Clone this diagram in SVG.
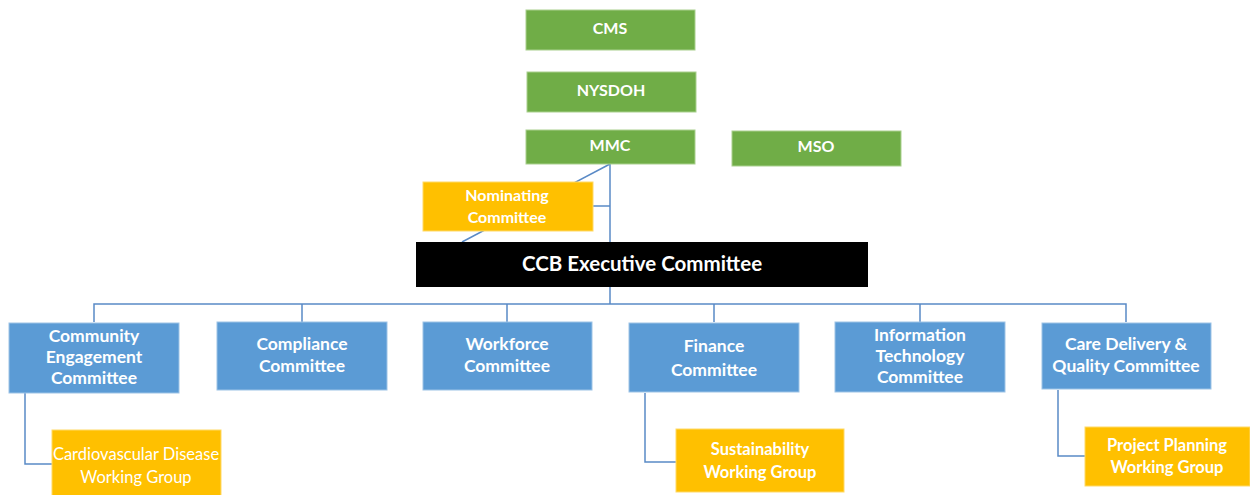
<svg xmlns="http://www.w3.org/2000/svg" width="1250" height="495" viewBox="0 0 1250 495">
<style>
.g{fill:#70AD47;stroke:#A9D08E;stroke-width:1}
.b{fill:#5B9BD5;stroke:#9DC3E6;stroke-width:1}
.o{fill:#FFC000;stroke:#FFD966;stroke-width:1}
.k{fill:#000000}
text{font-family:Lato,"Open Sans",sans-serif;font-weight:700;fill:#FFFFFF;text-anchor:middle;font-size:17.5px}
.s{font-size:16px}
.w{font-size:16.5px}
.big{font-size:20.5px}
.ln{fill:none;stroke:#5A8AC6;stroke-width:1.5}
</style>
<rect width="1250" height="495" fill="#FFFFFF"/>
<g id="connectors">
<line class="ln" x1="610" y1="164" x2="462" y2="242"/>
<path class="ln" d="M610 164V304M593 206H610M94 322V304H1126V322M302 304V322M507 304V322M714 304V322M920 304V322"/>
<path class="ln" d="M25 393V464H52M645 393V462H676M1058 390V456H1085"/>
</g>
<g id="cms"><rect class="g" x="526" y="10" width="169" height="40"/><text class="s" x="610" y="34">CMS</text></g>
<g id="nysdoh"><rect class="g" x="527" y="72" width="169" height="40"/><text class="s" x="611" y="96">NYSDOH</text></g>
<g id="mmc"><rect class="g" x="526" y="130" width="169" height="34"/><text class="s" x="610" y="151">MMC</text></g>
<g id="mso"><rect class="g" x="732" y="131" width="169" height="35"/><text class="s" x="816" y="152">MSO</text></g>
<g id="nominating"><rect class="o" x="423" y="182" width="170" height="49"/><text class="s" x="507" y="201">Nominating</text><text class="s" x="507" y="223">Committee</text></g>
<g id="ccb"><rect class="k" x="416" y="242" width="452" height="45"/><text class="big" x="642" y="271">CCB Executive Committee</text></g>
<g id="community"><rect class="b" x="9" y="323" width="170" height="70"/><text x="94" y="342">Community</text><text x="94" y="363">Engagement</text><text x="94" y="384">Committee</text></g>
<g id="compliance"><rect class="b" x="217" y="322" width="170" height="68"/><text x="302" y="350">Compliance</text><text x="302" y="372">Committee</text></g>
<g id="workforce"><rect class="b" x="423" y="322" width="169" height="68"/><text x="507" y="350">Workforce</text><text x="507" y="372">Committee</text></g>
<g id="finance"><rect class="b" x="629" y="323" width="170" height="69"/><text x="714" y="352">Finance</text><text x="714" y="376">Committee</text></g>
<g id="it"><rect class="b" x="835" y="322" width="170" height="70"/><text x="920" y="341">Information</text><text x="920" y="362">Technology</text><text x="920" y="383">Committee</text></g>
<g id="care"><rect class="b" x="1042" y="323" width="169" height="66"/><text x="1126" y="350">Care Delivery &amp;</text><text x="1126" y="372">Quality Committee</text></g>
<g id="cardio"><rect class="o" x="52" y="430" width="169" height="66"/><text class="w" x="136" y="460" style="font-weight:400">Cardiovascular Disease</text><text class="w" x="136" y="483" style="font-weight:400">Working Group</text></g>
<g id="sustain"><rect class="o" x="676" y="429" width="168" height="63"/><text class="w" x="760" y="455">Sustainability</text><text class="w" x="760" y="478">Working Group</text></g>
<g id="project"><rect class="o" x="1085" y="427" width="165" height="59"/><text class="w" x="1167" y="451">Project Planning</text><text class="w" x="1167" y="473">Working Group</text></g>
</svg>
